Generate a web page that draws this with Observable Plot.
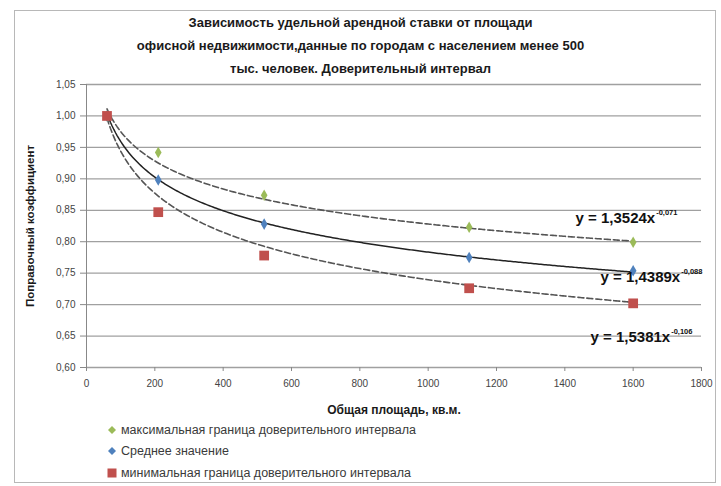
<!DOCTYPE html>
<html><head><meta charset="utf-8">
<script src="https://cdn.jsdelivr.net/npm/d3@7"></script>
<script src="https://cdn.jsdelivr.net/npm/@observablehq/plot@0.6"></script>
<style>
body{margin:0;background:#fff;font-family:"Liberation Sans",Arial,sans-serif;}
#wrap{position:relative;width:721px;height:486px;overflow:hidden;}
#frame{position:absolute;left:14px;top:10px;width:702px;height:473px;border:1px solid #b8b8b8;box-sizing:border-box;}
#title{position:absolute;left:0;width:721px;top:11px;text-align:center;font-weight:bold;font-size:13px;line-height:23px;color:#1a1a1a;}
#chart{position:absolute;left:0;top:0;}
#legend{position:absolute;left:106px;top:419px;font-size:12.5px;color:#3a3a3a;}
.row{height:21.5px;display:flex;align-items:center;}
.row svg{margin-right:3px;}
</style></head>
<body><div id="wrap"><div id="frame"></div><div id="chart"></div><div id="title"></div><div id="legend"></div></div>
<script>
// ---- data ----
const titleLines = ["Зависимость удельной арендной ставки от площади","офисной недвижимости,данные по городам с населением менее 500","тыс. человек. Доверительный интервал"];
const area = [60, 210, 520, 1120, 1600];
const maxBound = [1.00, 0.942, 0.874, 0.823, 0.799];
const meanVal  = [1.00, 0.898, 0.828, 0.775, 0.754];
const minBound = [1.00, 0.847, 0.778, 0.726, 0.702];
const seriesNames = ["максимальная граница доверительного интервала","Среднее значение","минимальная граница доверительного интервала"];
const seriesColors = ["#9bbb59","#4f81bd","#c0504d"];
const trendA = [1.3524, 1.4389, 1.5381];
const trendB = [-0.071, -0.088, -0.106];
const trendCoefLabel = ["1,3524","1,4389","1,5381"];
const trendExpLabel = ["-0,071","-0,088","-0,106"];
const xTicks = [0,200,400,600,800,1000,1200,1400,1600,1800];
const yTicks = [0.60,0.65,0.70,0.75,0.80,0.85,0.90,0.95,1.00,1.05];
const xLabel = "Общая площадь, кв.м.";
const yLabel = "Поправочный коэффициент";

document.getElementById("title").innerHTML = titleLines.join("<br>");

const pts = (vals) => area.map((a,i)=>({x:a, y:vals[i]}));
const series = [maxBound, meanVal, minBound];
const xMin = d3.min(area), xMax = d3.max(area);
const trend = (k) => d3.range(xMin, xMax + 1, 5).map(x => ({x, y: trendA[k]*Math.pow(x, trendB[k])}));
const fmt = d => d.toFixed(2).replace(".", ",");

const eqPos = [ {dx:22, dy:-24}, {dx:47, dy:7}, {dx:37, dy:34} ];
const eqMarks = [];
for (let k=0;k<3;k++){
  const p = series[k];
  const anchor = [{x: area[area.length-1], y: p[p.length-1]}];
  eqMarks.push(Plot.text(anchor, {x:"x", y:"y", text: () => "y = " + trendCoefLabel[k] + "x", textAnchor:"end", dx:eqPos[k].dx, dy:eqPos[k].dy, fontSize:15, fontWeight:"bold", fill:"#111"}));
  eqMarks.push(Plot.text(anchor, {x:"x", y:"y", text: () => trendExpLabel[k], textAnchor:"start", dx:eqPos[k].dx+1, dy:eqPos[k].dy-6, fontSize:7.5, fontWeight:"bold", fill:"#111"}));
}

const chart = Plot.plot({
  width: 721, height: 430,
  marginLeft: 86, marginRight: 20, marginTop: 84, marginBottom: 63,
  style: {fontFamily: '"Liberation Sans", Arial, sans-serif', background: "transparent"},
  x: {domain: [0, 1800]},
  y: {domain: [0.60, 1.05]},
  marks: [
    Plot.gridY(yTicks, {stroke: "#a0a0a0", strokeOpacity: 1, strokeWidth: 1.3}),
    Plot.ruleX([0], {stroke: "#888"}),
    Plot.axisY(yTicks, {tickFormat: fmt, tickSize: 6, tickPadding: 5, fontSize: 10, fill: "#444", stroke: "#888", label: null}),
    Plot.axisX(xTicks, {tickFormat: d => String(d), tickSize: 4, tickPadding: 8, fontSize: 10, fill: "#444", stroke: "#888", label: null}),
    Plot.text([xLabel], {text: d=>d, frameAnchor: "bottom", dy: 46, fontSize: 12, fontWeight: "bold", fill: "#1a1a1a"}),
    Plot.text([yLabel], {text: d=>d, frameAnchor: "left", textAnchor: "middle", rotate: -90, dx: -56, fontSize: 11.5, fontWeight: "bold", fill: "#1a1a1a"}),
    Plot.line(trend(0), {x:"x", y:"y", stroke:"#555", strokeWidth:1.6, strokeDasharray:"6,3"}),
    Plot.line(trend(2), {x:"x", y:"y", stroke:"#555", strokeWidth:1.6, strokeDasharray:"6,3"}),
    Plot.line(trend(1), {x:"x", y:"y", stroke:"#222", strokeWidth:1.5}),
    Plot.dot(pts(maxBound), {x:"x", y:"y", symbol:"diamond", r:3.5, fill: seriesColors[0]}),
    Plot.dot(pts(meanVal), {x:"x", y:"y", symbol:"diamond", r:3.5, fill: seriesColors[1]}),
    Plot.dot(pts(minBound), {x:"x", y:"y", symbol:"square", r:5.5, fill: seriesColors[2]}),
    ...eqMarks
  ]
});
document.getElementById("chart").appendChild(chart);

// legend
const leg = document.getElementById("legend");
const sym = ["diamond","diamond","square"];
seriesNames.forEach((name,i)=>{
  const row = document.createElement("div"); row.className="row";
  const s = sym[i]==="square"
    ? `<svg width="12" height="12"><rect x="1.5" y="1.5" width="9" height="9" fill="${seriesColors[i]}"/></svg>`
    : `<svg width="12" height="12"><path d="M6 2 L10 6 L6 10 L2 6Z" fill="${seriesColors[i]}"/></svg>`;
  row.innerHTML = s + `<span>${name}</span>`;
  leg.appendChild(row);
});
</script></body></html>
